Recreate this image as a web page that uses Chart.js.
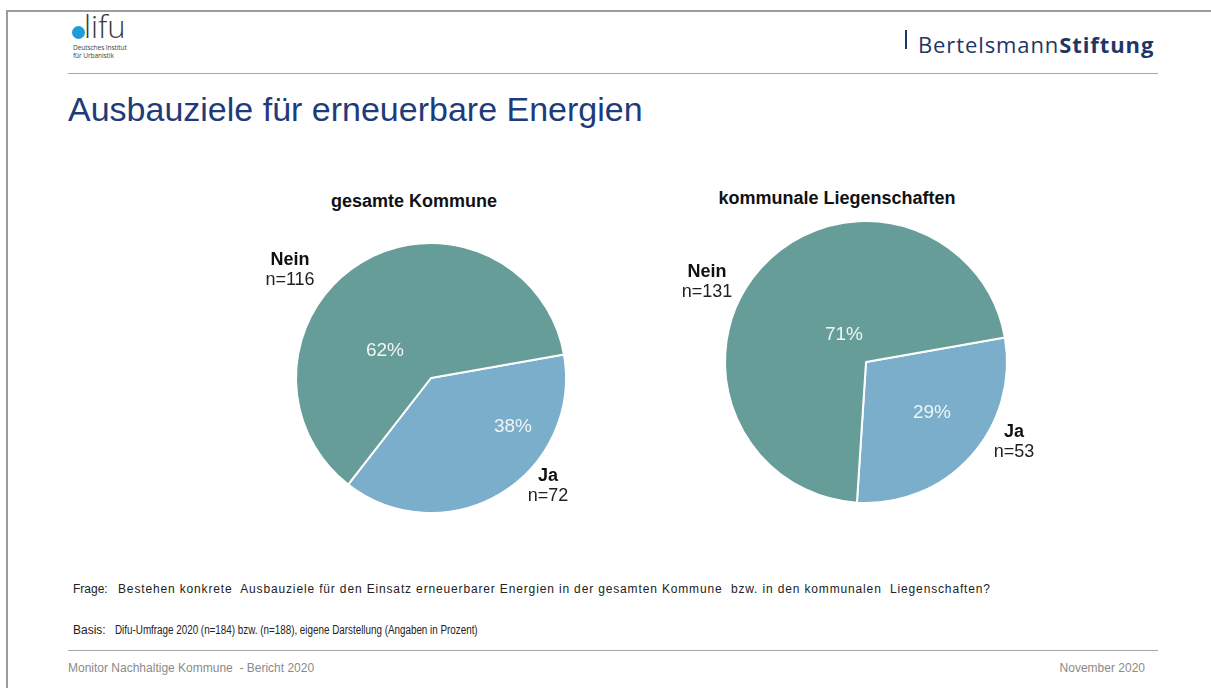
<!DOCTYPE html>
<html lang="de">
<head>
<meta charset="utf-8">
<title>Ausbauziele für erneuerbare Energien</title>
<script src="https://cdn.jsdelivr.net/npm/chart.js@4.4.1/dist/chart.umd.min.js"></script>
<style>
  html, body { margin: 0; padding: 0; background: #fff; }
  #slide { position: relative; width: 1211px; height: 688px; overflow: hidden; font-family: 'Liberation Sans', Arial, sans-serif; color: #222; }
  .abs { position: absolute; white-space: pre; }
  .frame-top { left: 6px; top: 10px; right: 0; height: 0; border-top: 2px solid #9c9c9c; }
  .frame-left { left: 6px; top: 10px; bottom: 0; width: 0; border-left: 2px solid #9c9c9c; }
  .rule { left: 68px; width: 1090px; height: 0; border-top: 1px solid #a8a8a8; }
  #dot { left: 72px; top: 26px; width: 13px; height: 13px; border-radius: 50%; background: #1f9bd7; }
  #lifu { left: 84px; top: 11px; font-size: 31px; line-height: 31px; color: #3c3c3c; font-family: 'Open Sans', sans-serif; font-weight: 300; }
  #difusub { left: 73px; top: 44px; font-size: 6.6px; line-height: 7.5px; color: #444; font-family: 'Open Sans', sans-serif; letter-spacing: -0.1px; }
  #bsbar { left: 905px; top: 30px; width: 2px; height: 19px; background: #1d3767; }
  #bs { left: 918px; top: 32px; font-size: 22px; line-height: 24px; color: #1d3767; font-family: 'Open Sans', sans-serif; letter-spacing: 0.9px; }
  #bs b { font-weight: 700; }
  #title { left: 68px; top: 92px; font-size: 34px; line-height: 34px; color: #1f3c7a; }
  .ctitle { font-size: 18px; line-height: 18px; font-weight: bold; color: #111; transform: translateX(-50%); }
  .note { font-size: 12px; line-height: 14px; color: #222; }
  #frage { letter-spacing: 0.85px; }
  #basis { transform: scaleX(0.82); transform-origin: 0 50%; }
  .foot { font-size: 12px; line-height: 14px; color: #8a8a8a; }
  .chartbox { position: absolute; }
</style>
</head>
<body>
<div id="slide">
  <div class="abs frame-top"></div>
  <div class="abs frame-left"></div>

  <div class="abs" id="dot"></div>
  <div class="abs" id="lifu">lifu</div>
  <div class="abs" id="difusub">Deutsches Institut
für Urbanistik</div>
  <div class="abs" id="bsbar"></div>
  <div class="abs" id="bs">Bertelsmann<b>Stiftung</b></div>
  <div class="abs rule" style="top:73px"></div>

  <div class="abs" id="title">Ausbauziele für erneuerbare Energien</div>

  <div class="abs ctitle" style="left:414px; top:192px">gesamte Kommune</div>
  <div class="abs ctitle" style="left:837px; top:189px">kommunale Liegenschaften</div>

  <div class="chartbox" style="left:240px; top:225px"><canvas id="c1" width="360" height="300"></canvas></div>
  <div class="chartbox" style="left:670px; top:210px"><canvas id="c2" width="380" height="310"></canvas></div>

  <div class="abs note" style="left:73px; top:582px">Frage:</div>
  <div class="abs note" id="frage" style="left:118px; top:582px">Bestehen konkrete  Ausbauziele für den Einsatz erneuerbarer Energien in der gesamten Kommune  bzw. in den kommunalen  Liegenschaften?</div>
  <div class="abs note" style="left:73px; top:623px">Basis:</div>
  <div class="abs note" id="basis" style="left:115px; top:623px">Difu-Umfrage 2020 (n=184) bzw. (n=188), eigene Darstellung (Angaben in Prozent)</div>

  <div class="abs rule" style="top:650px"></div>
  <div class="abs foot" style="left:68px; top:661px">Monitor Nachhaltige Kommune  - Bericht 2020</div>
  <div class="abs foot" style="right:66px; top:661px">November 2020</div>
</div>

<script>
// answer categories (order: Ja first, so it starts just above 3 o'clock)
const answers = ['Ja', 'Nein'];
const answerColors = ['#7aaecb', '#679d99'];

// number of municipalities per answer
const countsKommune = [72, 116];
const countsLiegenschaften = [53, 131];

// draws the percentage inside each slice and the "Name / n=.." label outside
const sliceLabels = {
  id: 'sliceLabels',
  afterDatasetsDraw(chart, args, opts) {
    const ctx = chart.ctx;
    const ds = chart.data.datasets[0];
    const total = ds.data.reduce((a, b) => a + b, 0);
    const meta = chart.getDatasetMeta(0);
    ctx.save();
    ctx.textAlign = 'center';
    ctx.textBaseline = 'middle';
    meta.data.forEach((arc, i) => {
      const pct = Math.round(ds.data[i] / total * 100) + '%';
      const p = opts.pctPos[i], n = opts.namePos[i];
      ctx.fillStyle = '#eef5f4';
      ctx.font = '19px "Liberation Sans", Arial, sans-serif';
      ctx.fillText(pct, arc.x + p[0], arc.y + p[1]);
      ctx.fillStyle = '#111';
      ctx.font = 'bold 18px "Liberation Sans", Arial, sans-serif';
      ctx.fillText(chart.data.labels[i], arc.x + n[0], arc.y + n[1]);
      ctx.fillStyle = '#222';
      ctx.font = '18px "Liberation Sans", Arial, sans-serif';
      ctx.fillText('n=' + ds.data[i], arc.x + n[0], arc.y + n[1] + 20);
    });
    ctx.restore();
  }
};

function makePie(id, counts, padding, rotation, labelOpts) {
  return new Chart(document.getElementById(id), {
    type: 'pie',
    data: {
      labels: answers,
      datasets: [{
        data: counts,
        backgroundColor: answerColors,
        borderColor: '#ffffff',
        borderWidth: 2
      }]
    },
    options: {
      responsive: false,
      animation: false,
      rotation: rotation,
      layout: { padding: padding },
      plugins: {
        legend: { display: false },
        tooltip: { enabled: false },
        sliceLabels: labelOpts
      }
    },
    plugins: [sliceLabels]
  });
}

makePie('c1', countsKommune, { left: 55, right: 33, top: 17, bottom: 11 }, 80, {
  pctPos: [[82, 49], [-46, -27]],
  namePos: [[117, 98], [-141, -118]]
});

makePie('c2', countsLiegenschaften, { left: 54, right: 42, top: 10, bottom: 16 }, 80, {
  pctPos: [[66, 51], [-22, -27]],
  namePos: [[148, 70], [-159, -90]]
});
</script>
</body>
</html>
